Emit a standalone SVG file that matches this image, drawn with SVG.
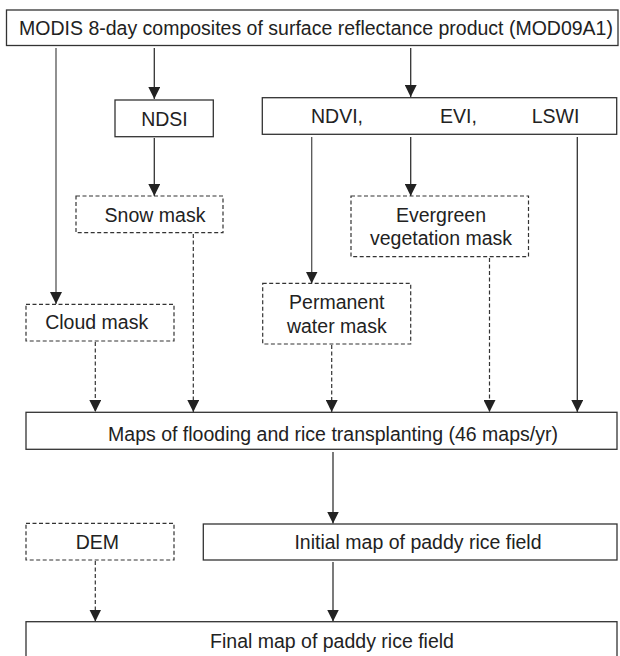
<svg xmlns="http://www.w3.org/2000/svg" width="620" height="656" viewBox="0 0 620 656">
<style>
.box{fill:#fff;stroke:#333;stroke-width:1.3}
.dbox{fill:#fff;stroke:#333;stroke-width:1.2;stroke-dasharray:4 2.5}
text{font-family:"Liberation Sans",Arial,sans-serif;font-size:19.5px;fill:#222}
.c{text-anchor:middle}
.ln{stroke:#333;stroke-width:1.3;fill:none;marker-end:url(#ah)}
.gl{stroke:#555}
.dl{stroke:#333;stroke-width:1.2;fill:none;stroke-dasharray:4 2.5;marker-end:url(#ah)}
</style>
<defs>
<marker id="ah" markerUnits="userSpaceOnUse" markerWidth="12" markerHeight="12" refX="12" refY="6" orient="auto" viewBox="0 0 12 12">
<path d="M0,0 L12,6 L0,12 z" fill="#222"/>
</marker>
</defs>
<rect width="620" height="656" fill="#fff"/>
<g id="connectors">
<line class="ln gl" x1="56" y1="48" x2="56" y2="304"/>
<line class="ln" x1="154.3" y1="48" x2="154.3" y2="99"/>
<line class="ln" x1="410.7" y1="48" x2="410.7" y2="97"/>
<line class="ln" x1="154.3" y1="138" x2="154.3" y2="196"/>
<line class="ln gl" x1="311.7" y1="137" x2="311.7" y2="283.5"/>
<line class="ln" x1="410.7" y1="137" x2="410.7" y2="196"/>
<line class="ln" x1="577.3" y1="137" x2="577.3" y2="412"/>
<line class="dl" x1="193.3" y1="234" x2="193.3" y2="412"/>
<line class="dl" x1="95.3" y1="342" x2="95.3" y2="412"/>
<line class="dl" x1="331.7" y1="345" x2="331.7" y2="412"/>
<line class="dl" x1="489.5" y1="258" x2="489.5" y2="412"/>
<line class="ln" x1="333" y1="452" x2="333" y2="523.5"/>
<line class="dl" x1="95.3" y1="561" x2="95.3" y2="621.5"/>
<line class="ln" x1="333" y1="562" x2="333" y2="621.5"/>
</g>
<g id="modis">
<rect class="box" x="6.5" y="10" width="611.5" height="35.5"/>
<text class="c" x="316" y="35">MODIS 8-day composites of surface reflectance product (MOD09A1)</text>
</g>
<g id="ndsi">
<rect class="box" x="115" y="100" width="98.3" height="36.7"/>
<text class="c" x="164.5" y="126">NDSI</text>
</g>
<g id="indices">
<rect class="box" x="262.3" y="97.7" width="354.4" height="36.6"/>
<text x="311" y="123">NDVI,</text>
<text x="440" y="123">EVI,</text>
<text x="531.7" y="123">LSWI</text>
</g>
<g id="snow">
<rect class="dbox" x="76" y="196" width="147" height="36.7"/>
<text class="c" x="155" y="221.7">Snow mask</text>
</g>
<g id="evergreen">
<rect class="dbox" x="351" y="196" width="177.5" height="60.7"/>
<text class="c" x="441" y="221.7">Evergreen</text>
<text class="c" x="441" y="245">vegetation mask</text>
</g>
<g id="cloud">
<rect class="dbox" x="26" y="304.3" width="148" height="36.7"/>
<text class="c" x="96.7" y="329.3">Cloud mask</text>
</g>
<g id="water">
<rect class="dbox" x="262.7" y="283.3" width="148" height="60.7"/>
<text class="c" x="336.8" y="309.3">Permanent</text>
<text class="c" x="336.8" y="332.7">water mask</text>
</g>
<g id="maps">
<rect class="box" x="26" y="412.3" width="591" height="37"/>
<text class="c" x="333" y="440.7">Maps of flooding and rice transplanting (46 maps/yr)</text>
</g>
<g id="dem">
<rect class="dbox" x="26" y="523.3" width="148" height="36.7"/>
<text class="c" x="97.3" y="549.3">DEM</text>
</g>
<g id="initial">
<rect class="box" x="203.3" y="524" width="413.7" height="36"/>
<text class="c" x="418" y="549.3">Initial map of paddy rice field</text>
</g>
<g id="final">
<rect class="box" x="26" y="621.7" width="591" height="40"/>
<text class="c" x="332" y="648.3">Final map of paddy rice field</text>
</g>
</svg>
